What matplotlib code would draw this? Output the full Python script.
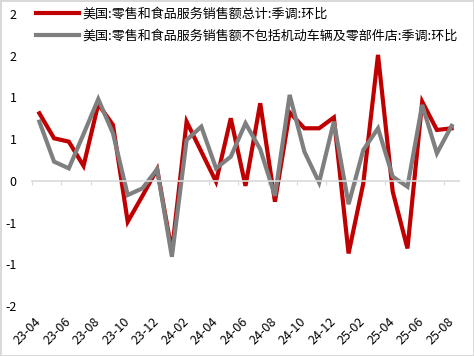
import matplotlib
matplotlib.use("Agg")
import matplotlib.pyplot as plt
from matplotlib.ticker import FuncFormatter, FixedLocator
import math

plt.rcParams['font.family'] = ['Noto Sans CJK SC', 'DejaVu Sans']

months = ['23-04', '23-05', '23-06', '23-07', '23-08', '23-09', '23-10', '23-11',
          '23-12', '24-01', '24-02', '24-03', '24-04', '24-05', '24-06', '24-07',
          '24-08', '24-09', '24-10', '24-11', '24-12', '25-01', '25-02', '25-03',
          '25-04', '25-05', '25-06', '25-07', '25-08']
total = [0.81, 0.51, 0.47, 0.18, 0.92, 0.67, -0.49, -0.18, 0.14, -0.85, 0.71, 0.35,
         -0.01, 0.75, -0.06, 0.93, -0.25, 0.82, 0.63, 0.63, 0.76, -0.87, -0.03, 1.51,
         -0.13, -0.81, 0.95, 0.61, 0.63]
ex_auto = [0.71, 0.23, 0.15, 0.56, 0.98, 0.57, -0.17, -0.09, 0.14, -0.91, 0.49, 0.65,
           0.15, 0.29, 0.69, 0.38, -0.18, 1.03, 0.35, -0.02, 0.71, -0.28, 0.37, 0.63,
           0.05, -0.07, 0.91, 0.33, 0.66]
labels = ['美国:零售和食品服务销售额总计:季调:环比',
          '美国:零售和食品服务销售额不包括机动车辆及零部件店:季调:环比']

fig = plt.figure(figsize=(4.74, 3.56), dpi=100, edgecolor='#d9d9d9', linewidth=2)
ax = fig.add_axes([32/474, 1 - 306/356, (459 - 32)/474, (306 - 14)/356])

x = list(range(len(months)))
ax.plot(x, total, color='#c00000', lw=3, label=labels[0], solid_joinstyle='miter')
ax.plot(x, ex_auto, color='#7f7f7f', lw=3, label=labels[1], solid_joinstyle='miter')

ax.set_xlim(-0.5, len(months) - 0.5)
ax.set_ylim(-1.5, 2.0)

# zero line with tick marks between categories
for s in ['top', 'right', 'left']:
    ax.spines[s].set_visible(False)
ax.spines['bottom'].set_position(('data', 0))
ax.spines['bottom'].set_color('#d9d9d9')
ax.spines['bottom'].set_linewidth(1.2)
ax.xaxis.set_major_locator(FixedLocator([i - 0.5 for i in range(0, len(months) + 1, 2)]))
ax.tick_params(axis='x', length=3, color='#d9d9d9', labelbottom=False)

ax.set_yticks([-1.5, -1.0, -0.5, 0, 0.5, 1.0, 1.5, 2.0])
ax.yaxis.set_major_formatter(FuncFormatter(
    lambda v, p: '%d' % (math.copysign(math.floor(abs(v) + 0.5), v) if v != 0 else 0)))
ax.tick_params(axis='y', length=0, pad=11, labelsize=9)

sec = ax.secondary_xaxis('bottom', functions=(lambda v: v, lambda v: v))
sec.set_xticks(x[::2])
sec.set_xticklabels(months[::2], rotation=45, ha='right', va='center',
                    rotation_mode='anchor', fontsize=9)
sec.tick_params(length=0, pad=10)
sec.spines['bottom'].set_visible(False)

ax.legend(loc='upper left', bbox_to_anchor=(36/474, 0.978), bbox_transform=fig.transFigure,
          frameon=False, fontsize=9.4, handlelength=3.3, handletextpad=0.25,
          labelspacing=0.68, borderpad=0, borderaxespad=0)

fig.savefig('out.png', dpi=100)
